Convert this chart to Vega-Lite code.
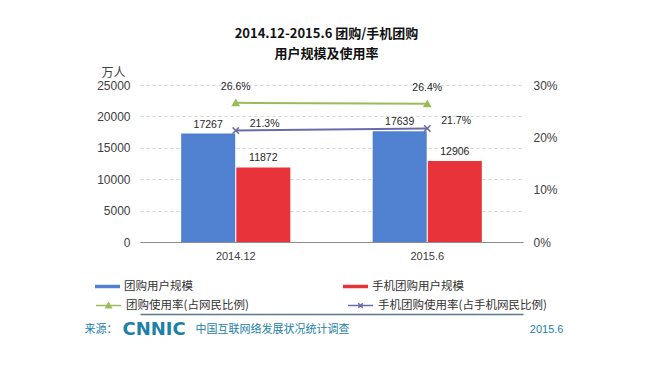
{
  "$schema": "https://vega.github.io/schema/vega-lite/v6.json",
  "width": 383,
  "height": 157,
  "autosize": {"type": "none"},
  "padding": {"left": 140, "top": 85, "right": 132, "bottom": 124},
  "background": "#ffffff",
  "title": {
    "text": ["2014.12-2015.6 团购/手机团购", "用户规模及使用率"],
    "anchor": "middle",
    "frame": "group",
    "font": "Noto Sans CJK SC",
    "fontSize": 13,
    "fontWeight": "bold",
    "color": "#111111",
    "lineHeight": 20,
    "offset": 5,
    "dx": -5
  },
  "config": {
    "view": {"stroke": null},
    "axis": {"labelFont": "Liberation Sans", "labelColor": "#404040", "titleFontWeight": "normal"}
  },
  "datasets": {
    "users": [
      {"period": "2014.12", "series": "团购用户规模", "users": 17267},
      {"period": "2014.12", "series": "手机团购用户规模", "users": 11872},
      {"period": "2015.6", "series": "团购用户规模", "users": 17639},
      {"period": "2015.6", "series": "手机团购用户规模", "users": 12906}
    ],
    "rates": [
      {"period": "2014.12", "line": "团购使用率(占网民比例)", "rate": 0.266},
      {"period": "2014.12", "line": "手机团购使用率(占手机网民比例)", "rate": 0.213},
      {"period": "2015.6", "line": "团购使用率(占网民比例)", "rate": 0.264},
      {"period": "2015.6", "line": "手机团购使用率(占手机网民比例)", "rate": 0.217}
    ]
  },
  "resolve": {"scale": {"y": "independent"}, "axis": {"x": "independent", "y": "independent"}},
  "layer": [
    {
      "data": {"name": "users"},
      "mark": {"type": "bar"},
      "encoding": {
        "x": {
          "field": "period", "type": "nominal", "sort": null,
          "scale": {"paddingInner": 0.43, "paddingOuter": 0.215},
          "axis": {"title": null, "labelAngle": 0, "ticks": false, "domainColor": "#8c8c8c", "labelPadding": 8, "labelFontSize": 11, "labelColor": "#404040"}
        },
        "xOffset": {"field": "series", "type": "nominal", "sort": ["团购用户规模", "手机团购用户规模"], "scale": {"paddingInner": 0.02}},
        "y": {
          "field": "users", "type": "quantitative",
          "scale": {"domain": [0, 25000], "nice": false},
          "axis": {
            "orient": "left", "values": [0, 5000, 10000, 15000, 20000, 25000], "format": "d",
            "grid": true, "gridDash": [3, 3], "gridColor": "#d4d4d4",
            "domain": false, "ticks": false, "labelPadding": 10, "labelFontSize": 12,
            "title": "万人", "titleAngle": 0, "titleX": -27, "titleY": -13,
            "titleAlign": "center", "titleBaseline": "middle",
            "titleFont": "Noto Sans CJK SC", "titleFontSize": 12, "titleColor": "#404040"
          }
        },
        "color": {
          "field": "series", "type": "nominal",
          "scale": {"domain": ["团购用户规模", "手机团购用户规模"], "range": ["#4F81D0", "#E8333B"]},
          "legend": {
            "orient": "none", "legendX": -45, "legendY": 189, "columns": 2, "columnPadding": 150,
            "title": null, "padding": 0,
            "symbolType": "M-1,-0.14H1V0.14H-1Z", "symbolSize": 625, "symbolStrokeWidth": 0,
            "labelFont": "Noto Sans CJK SC", "labelFontSize": 11.5, "labelColor": "#333333", "labelOffset": 4
          }
        }
      }
    },
    {
      "data": {"name": "users"},
      "mark": {"type": "text", "baseline": "bottom", "dy": -4, "font": "Liberation Sans", "fontSize": 10.5, "color": "#262626"},
      "encoding": {
        "x": {
          "field": "period", "type": "nominal", "sort": null,
          "axis": {
            "orient": "bottom", "offset": 72, "labels": false, "ticks": false, "domain": false,
            "title": "来源：", "titleX": -56, "titleY": 15, "titleAlign": "left", "titleBaseline": "middle", "titleAngle": 0,
            "titleFont": "Noto Sans CJK SC", "titleFontSize": 11, "titleColor": "#1C80A8"
          }
        },
        "xOffset": {"field": "series", "type": "nominal", "sort": ["团购用户规模", "手机团购用户规模"]},
        "y": {"field": "users", "type": "quantitative", "scale": {"domain": [0, 25000], "nice": false}, "axis": null},
        "text": {"field": "users", "type": "quantitative", "format": "d"}
      }
    },
    {
      "data": {"name": "rates"},
      "mark": {"type": "line", "strokeWidth": 2},
      "encoding": {
        "x": {
          "field": "period", "type": "nominal", "sort": null,
          "axis": {
            "orient": "bottom", "offset": 72, "labels": false, "ticks": false, "domain": true,
            "domainColor": "#5C7A8C", "domainWidth": 1.5,
            "title": "CNNIC", "titleX": -18, "titleY": 15, "titleAlign": "left", "titleBaseline": "middle", "titleAngle": 0,
            "titleFont": "DejaVu Sans", "titleFontSize": 18, "titleFontWeight": "bold", "titleColor": "#1C80A8"
          }
        },
        "y": {
          "field": "rate", "type": "quantitative",
          "scale": {"domain": [0, 0.3], "nice": false},
          "axis": {
            "orient": "right", "values": [0, 0.1, 0.2, 0.3], "format": ".0%", "title": null,
            "grid": false, "domain": false, "ticks": false, "labelPadding": 10, "labelFontSize": 12, "labelColor": "#404040"
          }
        },
        "stroke": {
          "field": "line", "type": "nominal",
          "scale": {"domain": ["团购使用率(占网民比例)", "手机团购使用率(占手机网民比例)"], "range": ["#9BBB59", "#6B6BAA"]},
          "legend": {
            "orient": "none", "legendX": -45, "legendY": 207, "columns": 2, "columnPadding": 96,
            "title": null, "padding": 0, "symbolSize": 625, "symbolStrokeWidth": 1.5, "labelLimit": 400,
            "labelFont": "Noto Sans CJK SC", "labelFontSize": 11.5, "labelColor": "#333333", "labelOffset": 4,
            "encode": {
              "symbols": {
                "update": {
                  "shape": {"signal": "datum.value === '团购使用率(占网民比例)' ? 'M-1,0H1M-0.22,0.18L0,-0.22L0.22,0.18Z' : 'M-1,0H1M-0.18,-0.18L0.18,0.18M-0.18,0.18L0.18,-0.18'"},
                  "size": {"value": 625},
                  "fill": {"signal": "datum.value === '团购使用率(占网民比例)' ? '#9BBB59' : 'transparent'"},
                  "stroke": {"signal": "datum.value === '团购使用率(占网民比例)' ? '#9BBB59' : '#6B6BAA'"},
                  "strokeWidth": {"value": 1.5},
                  "opacity": {"value": 1}
                }
              }
            }
          }
        }
      }
    },
    {
      "data": {"name": "rates"},
      "mark": {"type": "point", "size": 40, "strokeWidth": 1.5, "opacity": 1},
      "encoding": {
        "x": {
          "field": "period", "type": "nominal", "sort": null,
          "axis": {
            "orient": "bottom", "offset": 72, "labels": false, "ticks": false, "domain": false,
            "title": "中国互联网络发展状况统计调查", "titleX": 55, "titleY": 15, "titleAlign": "left", "titleBaseline": "middle", "titleAngle": 0,
            "titleFont": "Noto Sans CJK SC", "titleFontSize": 11, "titleColor": "#1C80A8"
          }
        },
        "y": {"field": "rate", "type": "quantitative", "scale": {"domain": [0, 0.3], "nice": false}, "axis": null},
        "stroke": {"condition": {"test": "datum.line === '团购使用率(占网民比例)'", "value": "#9BBB59"}, "value": "#6B6BAA"},
        "fill": {"condition": {"test": "datum.line === '团购使用率(占网民比例)'", "value": "#9BBB59"}, "value": "transparent"},
        "shape": {"condition": {"test": "datum.line === '团购使用率(占网民比例)'", "value": "triangle-up"}, "value": "M-1,-1L1,1M-1,1L1,-1"}
      }
    },
    {
      "data": {"name": "rates"},
      "transform": [{"filter": "datum.line === '团购使用率(占网民比例)'"}],
      "mark": {"type": "text", "baseline": "bottom", "dy": -11, "font": "Liberation Sans", "fontSize": 10.5, "color": "#262626"},
      "encoding": {
        "x": {
          "field": "period", "type": "nominal", "sort": null,
          "axis": {
            "orient": "bottom", "offset": 72, "labels": false, "ticks": false, "domain": false,
            "title": "2015.6", "titleX": 423, "titleY": 15, "titleAlign": "right", "titleBaseline": "middle", "titleAngle": 0,
            "titleFont": "Liberation Sans", "titleFontSize": 11, "titleColor": "#1C80A8"
          }
        },
        "y": {"field": "rate", "type": "quantitative", "scale": {"domain": [0, 0.3], "nice": false}, "axis": null},
        "text": {"field": "rate", "type": "quantitative", "format": ".1%"}
      }
    },
    {
      "data": {"name": "rates"},
      "transform": [{"filter": "datum.line === '手机团购使用率(占手机网民比例)'"}],
      "mark": {"type": "text", "baseline": "middle", "align": "left", "dx": 14, "dy": -7, "font": "Liberation Sans", "fontSize": 10.5, "color": "#262626"},
      "encoding": {
        "x": {"field": "period", "type": "nominal", "sort": null, "axis": null},
        "y": {"field": "rate", "type": "quantitative", "scale": {"domain": [0, 0.3], "nice": false}, "axis": null},
        "text": {"field": "rate", "type": "quantitative", "format": ".1%"}
      }
    }
  ]
}
